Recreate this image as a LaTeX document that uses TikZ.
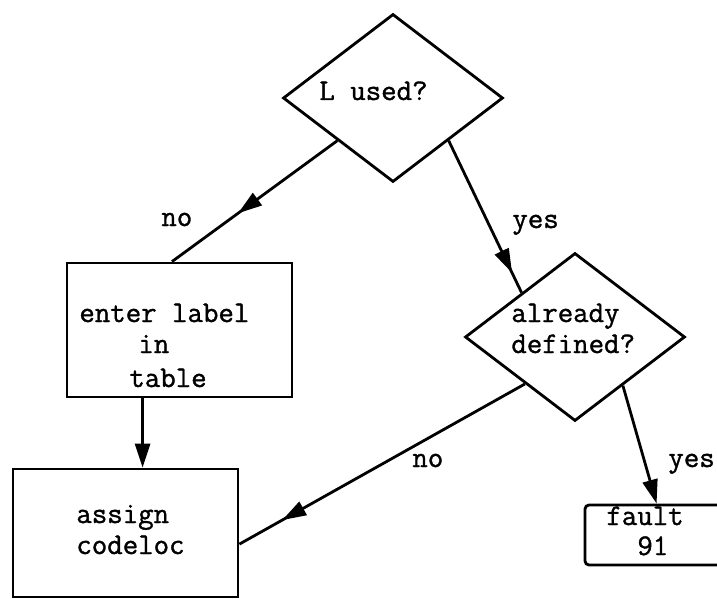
\documentclass[tikz,border=0pt]{standalone}
\usepackage{fontspec}
\newfontfamily\twfont{Latin Modern Mono}[FakeBold=1.2]
\usetikzlibrary{shapes.geometric,arrows.meta,decorations.markings,calc}
\begin{document}
\begin{tikzpicture}[x=1pt,y=-1pt,
  line width=2.8pt, line join=miter,
  box/.style={draw, rectangle, inner sep=0pt},
  dia/.style={draw, diamond, inner sep=0pt, minimum width=220pt, minimum height=168pt},
  txt/.style={font=\twfont\fontsize{30}{34}\selectfont, anchor=base west, inner sep=0pt},
  endarrow/.style={-{Triangle[length=24pt,width=15pt]}},
  midarrow/.style={postaction={decorate}, decoration={markings, mark=at position #1 with {\arrow{Triangle[length=24pt,width=15pt]}}}},
]
\clip (0,0) rectangle (717,599);
% shapes
\node[dia] (d1) at (393,98) {};
\node[dia] (d2) at (575,337) {};
\node[box, minimum width=225pt, minimum height=134pt] (enter) at (179.5,330) {};
\node[box, minimum width=225pt, minimum height=128pt] (assign) at (125.5,533) {};
\node[box, rounded corners=4pt, minimum width=150pt, minimum height=60pt] (fault) at (660,535) {};
% texts
\node[txt] (t1) at (318,100) {L used?};
\node[txt] (no1) at (160,226) {no};
\node[txt] (yes1) at (511,228) {yes};
\node[txt] (en1) at (78,322) {enter label};
\node[txt] (en2) at (137,353) {in};
\node[txt] (en3) at (128,387) {table};
\node[txt] (al1) at (510,322) {already};
\node[txt] (al2) at (510,353) {defined?};
\node[txt] (no2) at (411,467) {no};
\node[txt] (as1) at (75,523) {assign};
\node[txt] (as2) at (75,554) {codeloc};
\node[txt] (yes2) at (667,467) {yes};
\node[txt] (fa1) at (605,525) {fault};
\node[txt] (fa2) at (636,555) {91};
% connectors
\draw[midarrow=0.6] (d1.south west) -- ($(enter.north west)!0.467!(enter.north east)$);
\draw[midarrow=0.87] (d1.south east) -- ($(d2.west)!0.52!(d2.north)$);
\draw[endarrow] ($(enter.south west)!0.338!(enter.south east)$) coordinate (e1) -- (e1 |- assign.north);
\draw[midarrow=0.85] ($(d2.west)!0.55!(d2.south)$) -- ($(assign.north east)!0.585!(assign.south east)$);
\draw[endarrow] ($(d2.south)!0.43!(d2.east)$) -- ($(fault.north west)+(73,0)$);
\end{tikzpicture}
\end{document}
